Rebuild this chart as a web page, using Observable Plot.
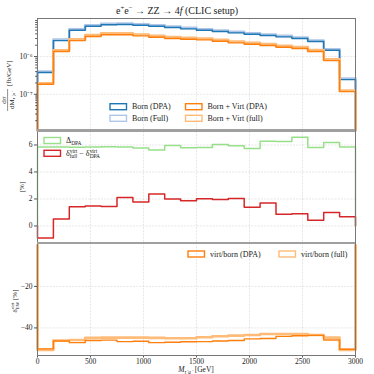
<!DOCTYPE html>
<html><head><meta charset="utf-8">
<script src="https://cdn.jsdelivr.net/npm/d3@7"></script>
<script src="https://cdn.jsdelivr.net/npm/@observablehq/plot@0.6"></script>
<style>
body{margin:0;background:#fff}
#wrap{position:relative;width:374px;height:374px;overflow:hidden;font-family:"Liberation Serif",serif}
#wrap svg{position:absolute;left:0;overflow:visible}
.sep{position:absolute;left:37px;width:318px;height:2.6px;background:#a0a0a0}
</style></head><body><div id="wrap"></div>
<script>
// ---- data (bin edges in GeV, 150 GeV bins) ----
const edges = [0,150,300,450,600,750,900,1050,1200,1350,1500,1650,1800,1950,2100,2250,2400,2550,2700,2850,3000];
const bornDPA  = [3.77e-7,2.65e-6,4.99e-6,6.37e-6,6.94e-6,7.07e-6,6.76e-6,6.37e-6,5.88e-6,5.43e-6,4.99e-6,4.61e-6,4.25e-6,3.91e-6,3.61e-6,3.33e-6,3.00e-6,2.50e-6,1.47e-6,2.45e-7];
const bornFull = [4.00e-7,2.81e-6,5.29e-6,6.75e-6,7.36e-6,7.49e-6,7.17e-6,6.75e-6,6.23e-6,5.76e-6,5.29e-6,4.89e-6,4.50e-6,4.14e-6,3.83e-6,3.53e-6,3.18e-6,2.65e-6,1.56e-6,2.60e-7];
const virtDPA  = [1.84e-7,1.36e-6,2.65e-6,3.40e-6,3.77e-6,3.77e-6,3.54e-6,3.25e-6,3.00e-6,2.87e-6,2.77e-6,2.55e-6,2.31e-6,2.12e-6,1.96e-6,1.77e-6,1.63e-6,1.36e-6,7.83e-7,1.18e-7];
const virtFull = [1.96e-7,1.47e-6,2.88e-6,3.72e-6,4.12e-6,4.12e-6,3.86e-6,3.54e-6,3.27e-6,3.12e-6,3.00e-6,2.77e-6,2.51e-6,2.31e-6,2.14e-6,1.94e-6,1.78e-6,1.48e-6,8.50e-7,1.25e-7];
const deltaDPA  = [5.85,5.85,5.83,5.85,5.87,5.85,5.77,5.62,5.97,5.80,5.82,6.03,5.94,5.74,6.28,6.26,6.58,5.82,6.18,5.86];
const deltaDiff = [-0.89,0.52,1.43,1.48,1.45,2.10,1.77,2.36,2.00,1.87,2.02,1.97,2.04,1.38,1.70,0.86,0.91,0.42,0.99,0.69];
const ewDPA  = [-50.1,-46.3,-47.1,-46.1,-45.9,-46.6,-46.4,-47.1,-46.9,-46.7,-46.6,-46.3,-46.1,-45.3,-45.1,-44.1,-43.8,-43.6,-45.8,-50.3];
const ewFull = [-50.6,-46.1,-45.8,-44.8,-44.7,-44.7,-44.7,-44.8,-45.0,-45.0,-44.5,-44.0,-43.7,-43.4,-42.9,-42.9,-42.9,-43.4,-44.7,-50.6];
const xTicks = [0,500,1000,1500,2000,2500,3000];
const yTicks1 = [1e-7,1e-6];
const yMinor1 = [2e-8,3e-8,4e-8,5e-8,6e-8,7e-8,8e-8,9e-8,2e-7,3e-7,4e-7,5e-7,6e-7,7e-7,8e-7,9e-7,2e-6,3e-6,4e-6,5e-6,6e-6,7e-6,8e-6,9e-6];
const yTicks2 = [0,2,4,6];
const yTicks3 = [-40,-20];

const C = {blue:"#1f77b4", lblue:"#aec7e8", orange:"#ff7f0e", lorange:"#ffbb78", green:"#98df8a", red:"#d62728"};
const FONT = "Liberation Serif";
const wrap = document.getElementById("wrap");

function stairs(vals, base){
  const pts = [];
  if (base != null) pts.push({x: edges[0], y: base});
  vals.forEach((v,i) => { pts.push({x: edges[i], y: v}); pts.push({x: edges[i+1], y: v}); });
  if (base != null) pts.push({x: edges[edges.length-1], y: base});
  return pts;
}
function place(svg, top){ svg.style.top = top + "px"; wrap.appendChild(svg); return svg; }
const common = {width:374, marginLeft:37, marginRight:19,
  style:{fontFamily:FONT, fontSize:"7.5px", color:"#222", background:"transparent", overflow:"visible"}};
const gridStyle = {stroke:"#bbb", strokeOpacity:0.5, strokeWidth:0.7, strokeDasharray:"2,1.2"};

// rich text helper
function rich(text, parts, fs){
  let cur = 0, carry = 0;
  for (const p of parts){
    if (p.stack){
      const sup = text.append("tspan").text(p.stack[0]).attr("font-size", fs*0.68)
        .attr("dy", (-fs*0.38) - cur); cur = -fs*0.38;
      if (carry) sup.attr("dx", carry); carry = 0;
      const L1 = sup.node().getComputedTextLength();
      const sub = text.append("tspan").text(p.stack[1]).attr("font-size", fs*0.68)
        .attr("dx", -L1).attr("dy", fs*0.3 - cur); cur = fs*0.3;
      const L2 = sub.node().getComputedTextLength();
      carry = Math.max(0, L1 - L2);
      continue;
    }
    const ts = text.append("tspan").text(p.t);
    let target = 0;
    if (p.s === "sup"){ target = -fs*0.38; ts.attr("font-size", fs*0.68); }
    else if (p.s === "sub"){ target = fs*0.25; ts.attr("font-size", fs*0.68); }
    if (p.it) ts.attr("font-style", "italic");
    if (target - cur) ts.attr("dy", target - cur);
    if (carry) ts.attr("dx", carry);
    carry = 0; cur = target;
  }
  return text;
}
function label(svg, x, y, parts, fs, opts={}){
  const t = d3.select(svg).append("text")
    .attr("font-family", FONT).attr("font-size", fs).attr("fill", opts.fill || "#222")
    .attr("text-anchor", opts.anchor || "start");
  if (opts.rotate) t.attr("transform", `translate(${x},${y}) rotate(-90)`);
  else t.attr("x", x).attr("y", y);
  return rich(t, parts, fs);
}
function legendEntry(svg, x, y, color, lw, parts){
  d3.select(svg).append("rect").attr("x", x).attr("y", y-3).attr("width", 16.5).attr("height", 6)
    .attr("fill", "none").attr("stroke", color).attr("stroke-width", lw);
  label(svg, x+22, y+2.7, parts, 8);
}

// ---- panel 1 ----
const yDom1 = [1.1e-8, 1.02e-5];
const p1 = place(Plot.plot({...common, height:131, marginTop:18, marginBottom:1,
  x:{domain:[0,3000], axis:null},
  y:{type:"log", domain:yDom1, axis:null},
  marks:[
    Plot.gridX({ticks:xTicks.slice(1,-1), ...gridStyle}),
    Plot.gridY({ticks:yTicks1, ...gridStyle}),
    Plot.line(stairs(bornFull, yDom1[0]), {x:"x", y:"y", stroke:C.lblue, strokeWidth:2.6}),
    Plot.line(stairs(bornDPA, yDom1[0]), {x:"x", y:"y", stroke:C.blue, strokeWidth:1.4}),
    Plot.line(stairs(virtFull, yDom1[0]), {x:"x", y:"y", stroke:C.lorange, strokeWidth:2.6}),
    Plot.line(stairs(virtDPA, yDom1[0]), {x:"x", y:"y", stroke:C.orange, strokeWidth:1.4}),
    Plot.axisY({ticks:yMinor1, tickSize:1.8, tickFormat:()=>"", stroke:"#555", label:null}),
    Plot.axisY({ticks:yTicks1, tickSize:3, tickPadding:2, stroke:"#555", label:null,
      tickFormat:d => d === 1e-6 ? "10⁻⁶" : "10⁻⁷"}),
    Plot.frame({stroke:"#777"})
  ]}), 0);

// ---- panel 2 ----
const p2 = place(Plot.plot({...common, height:112, marginTop:0, marginBottom:0,
  x:{domain:[0,3000], axis:null},
  y:{domain:[-1.3, 7], axis:null},
  marks:[
    Plot.gridX({ticks:xTicks.slice(1,-1), ...gridStyle}),
    Plot.gridY({ticks:yTicks2, ...gridStyle}),
    Plot.line(stairs(deltaDPA, 0), {x:"x", y:"y", stroke:C.green, strokeWidth:1.5}),
    Plot.line(stairs(deltaDiff, 0), {x:"x", y:"y", stroke:C.red, strokeWidth:1.5}),
    Plot.axisY({ticks:yTicks2, tickSize:3, tickPadding:2, stroke:"#555", label:null, tickFormat:d=>String(d)}),
    Plot.frame({stroke:"#777"})
  ]}), 131);

// ---- panel 3 ----
const p3 = place(Plot.plot({...common, height:131, marginTop:0, marginBottom:19,
  x:{domain:[0,3000], axis:null},
  y:{domain:[-53.3, 0.7], axis:null},
  marks:[
    Plot.gridX({ticks:xTicks.slice(1,-1), ...gridStyle}),
    Plot.gridY({ticks:yTicks3, ...gridStyle}),
    Plot.line(stairs(ewFull, 0), {x:"x", y:"y", stroke:C.lorange, strokeWidth:2.6}),
    Plot.line(stairs(ewDPA, 0), {x:"x", y:"y", stroke:C.orange, strokeWidth:1.4}),
    Plot.axisY({ticks:yTicks3, tickSize:3, tickPadding:2, stroke:"#555", label:null, tickFormat:d=>"−"+Math.abs(d)}),
    Plot.axisX({ticks:xTicks, tickSize:2.5, tickPadding:1, stroke:"#555", label:null, tickFormat:d=>String(d)}),
    Plot.frame({stroke:"#777"})
  ]}), 243);

// separators
for (const t of [129.2, 241.8]){ const d = document.createElement("div"); d.className = "sep"; d.style.top = t + "px"; wrap.appendChild(d); }

// ---- texts ----
// title
label(p1, 177, 14, [{t:"e"},{t:"+",s:"sup"},{t:"e"},{t:"−",s:"sup"},{t:" → ZZ → 4"},{t:"f",it:true},{t:" (CLIC setup)"}], 10, {anchor:"middle"});
// panel1 y label (fraction)
label(p1, 6.3, 100, [{t:"dσ"}], 7, {rotate:true, anchor:"middle"});
d3.select(p1).append("line").attr("x1", 7.6).attr("x2", 7.6).attr("y1", 89).attr("y2", 111).attr("stroke", "#222").attr("stroke-width", 0.5);
label(p1, 13.6, 100, [{t:"dM"},{t:"τ⁻μ⁻",s:"sub",it:true}], 7, {rotate:true, anchor:"middle"});
label(p1, 11, 86, [{t:"[fb/GeV]"}], 7, {rotate:true, anchor:"start"});
// panel1 legend
legendEntry(p1, 110, 106.7, C.blue, 1.4, [{t:"Born (DPA)"}]);
legendEntry(p1, 110, 118.3, C.lblue, 1.4, [{t:"Born (Full)"}]);
legendEntry(p1, 185.5, 106.7, C.orange, 1.4, [{t:"Born + Virt (DPA)"}]);
legendEntry(p1, 185.5, 118.3, C.lorange, 1.4, [{t:"Born + Virt (full)"}]);

// panel2
label(p2, 24, 187-131, [{t:"[%]"}], 7, {rotate:true, anchor:"middle"});
legendEntry(p2, 44, 140.5-131, C.green, 1.4, [{t:"Δ"},{t:"DPA",s:"sub"}]);
legendEntry(p2, 44, 153.3-131, C.red, 1.4, [{t:"δ"},{stack:["virt","full"]},{t:" − δ"},{stack:["virt","DPA"]}]);

// panel3
label(p3, 16.5, 301-243, [{t:"δ"},{stack:["virt","EW"]},{t:" [%]"}], 7, {rotate:true, anchor:"middle"});
legendEntry(p3, 188, 254-243, C.orange, 1.4, [{t:"virt/born (DPA)"}]);
legendEntry(p3, 279, 254-243, C.lorange, 1.4, [{t:"virt/born (full)"}]);
label(p3, 196, 372-243, [{t:"M",it:true},{t:"τ⁻μ⁻",s:"sub",it:true},{t:" [GeV]"}], 7.5, {anchor:"middle"});
</script></body></html>
